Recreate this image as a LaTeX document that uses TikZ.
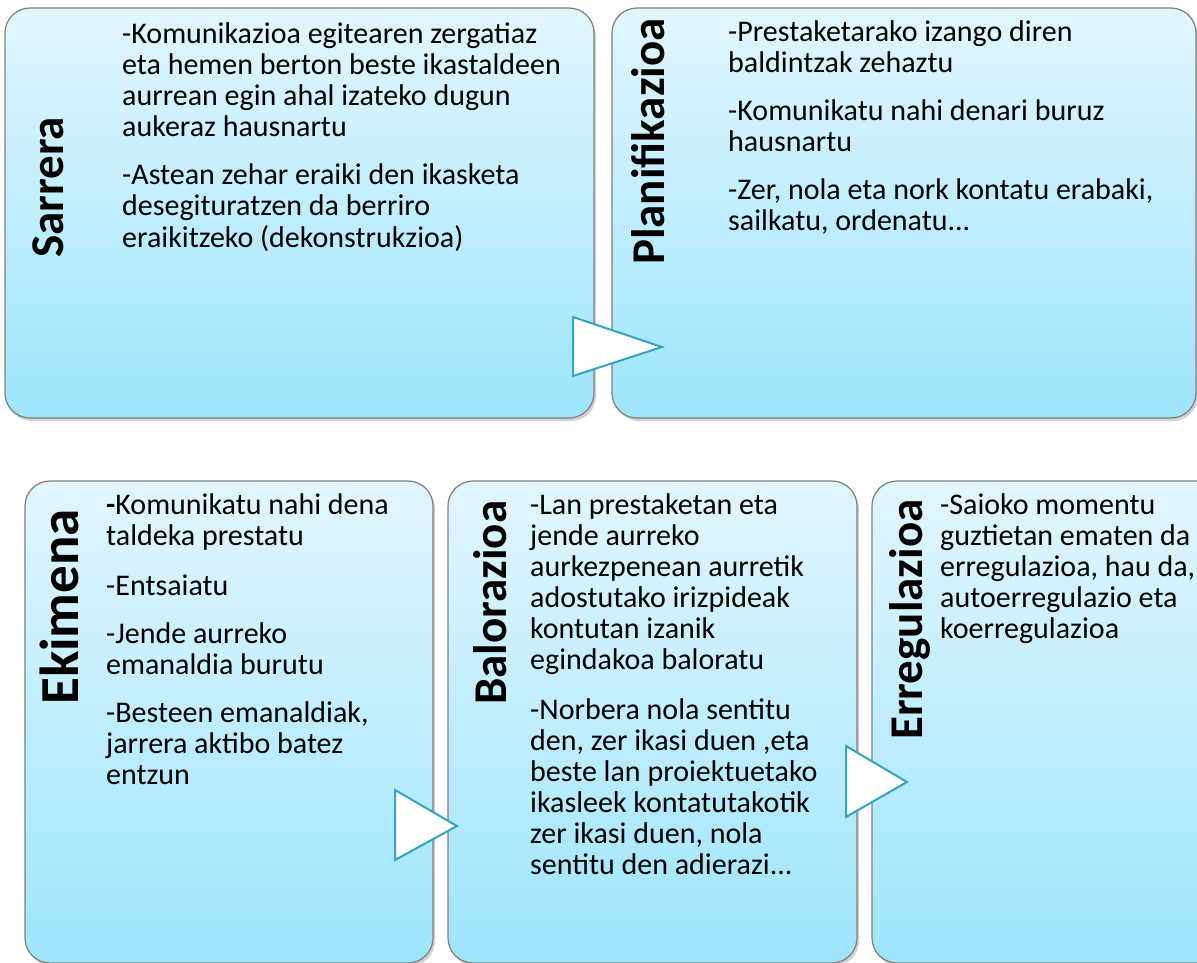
\documentclass[tikz,border=0pt]{standalone}
\usepackage{fontspec}
\setmainfont{Carlito}
\usetikzlibrary{shadows}
\definecolor{boxtop}{HTML}{E2F6FE}
\definecolor{boxbot}{HTML}{9DE5FC}
\definecolor{boxline}{HTML}{7F7F7F}
\definecolor{triline}{HTML}{31A5C3}
\begin{document}
\begin{tikzpicture}[x=1pt,y=-1pt,
  box/.style={rectangle, draw=boxline, line width=1.2pt, rounded corners=25pt,
    top color=boxtop, bottom color=boxbot, inner sep=0pt,
    drop shadow={opacity=0.35, shadow xshift=2pt, shadow yshift=-3pt}},
  ttl/.style={rotate=90, anchor=base west, inner sep=0pt,
    font=\fontsize{47}{50}\selectfont\bfseries},
  body/.style={anchor=base west, inner sep=0pt,
    font=\fontsize{30}{31}\selectfont},
  tri/.style={draw=triline, line width=2pt, fill=white, line join=miter}]
\path[use as bounding box, fill=white] (0,0) rectangle (1197,963);
\clip (0,0) rectangle (1197,963);
% boxes
\node[box, minimum width=589pt, minimum height=410pt] (b1) at (299.5,213) {};
\node[box, minimum width=584pt, minimum height=410pt] (b2) at (904,213) {};
\node[box, minimum width=408pt, minimum height=482pt] (b3) at (229,722) {};
\node[box, minimum width=409pt, minimum height=482pt] (b4) at (652.5,722) {};
\node[box, minimum width=408pt, minimum height=482pt] (b5) at (1076,722) {};
% titles
\node[ttl] (t1) at (63,258) {Sarrera};
\node[ttl] (t2) at (664,265) {Planifikazioa};
\node[ttl, font=\fontsize{55}{58}\selectfont\bfseries] (t3) at (78,705) {Ekimena};
\node[ttl] (t4) at (506,705) {Balorazioa};
\node[ttl] (t5) at (922,740) {Erregulazioa};
% body texts
\node[body] (x1) at (122,44) {\begin{tabular}[t]{@{}l@{}}
-Komunikazioa egitearen zergatiaz\\
eta hemen berton beste ikastaldeen\\
aurrean egin ahal izateko dugun\\
aukeraz hausnartu\\[17pt]
-Astean zehar eraiki den ikasketa\\
desegituratzen da berriro\\
eraikitzeko (dekonstrukzioa)
\end{tabular}};
\node[body] (x2) at (728,42) {\begin{tabular}[t]{@{}l@{}}
-Prestaketarako izango diren\\
baldintzak zehaztu\\[17pt]
-Komunikatu nahi denari buruz\\
hausnartu\\[17pt]
-Zer, nola eta nork kontatu erabaki,\\
sailkatu, ordenatu...
\end{tabular}};
\node[body] (x3) at (106,514) {\begin{tabular}[t]{@{}l@{}}
\textbf{-}Komunikatu nahi dena\\
taldeka prestatu\\[19pt]
-Entsaiatu\\[17pt]
-Jende aurreko\\
emanaldia burutu\\[17pt]
-Besteen emanaldiak,\\
jarrera aktibo batez\\
entzun
\end{tabular}};
\node[body] (x4) at (530,514) {\begin{tabular}[t]{@{}l@{}}
-Lan prestaketan eta\\
jende aurreko\\
aurkezpenean aurretik\\
adostutako irizpideak\\
kontutan izanik\\
egindakoa baloratu\\[19pt]
-Norbera nola sentitu\\
den, zer ikasi duen ,eta\\
beste lan proiektuetako\\
ikasleek kontatutakotik\\
zer ikasi duen, nola\\
sentitu den adierazi...
\end{tabular}};
\node[body] (x5) at (940,514) {\begin{tabular}[t]{@{}l@{}}
-Saioko momentu\\
guztietan ematen da\\
erregulazioa, hau da,\\
autoerregulazio eta\\
koerregulazioa
\end{tabular}};
% arrows
\draw[tri] (573,317) -- (662,347) -- (573,376) -- cycle;
\draw[tri] (395,790) -- (457,826) -- (395,860) -- cycle;
\draw[tri] (846,746) -- (907,782) -- (846,817) -- cycle;
\end{tikzpicture}
\end{document}
